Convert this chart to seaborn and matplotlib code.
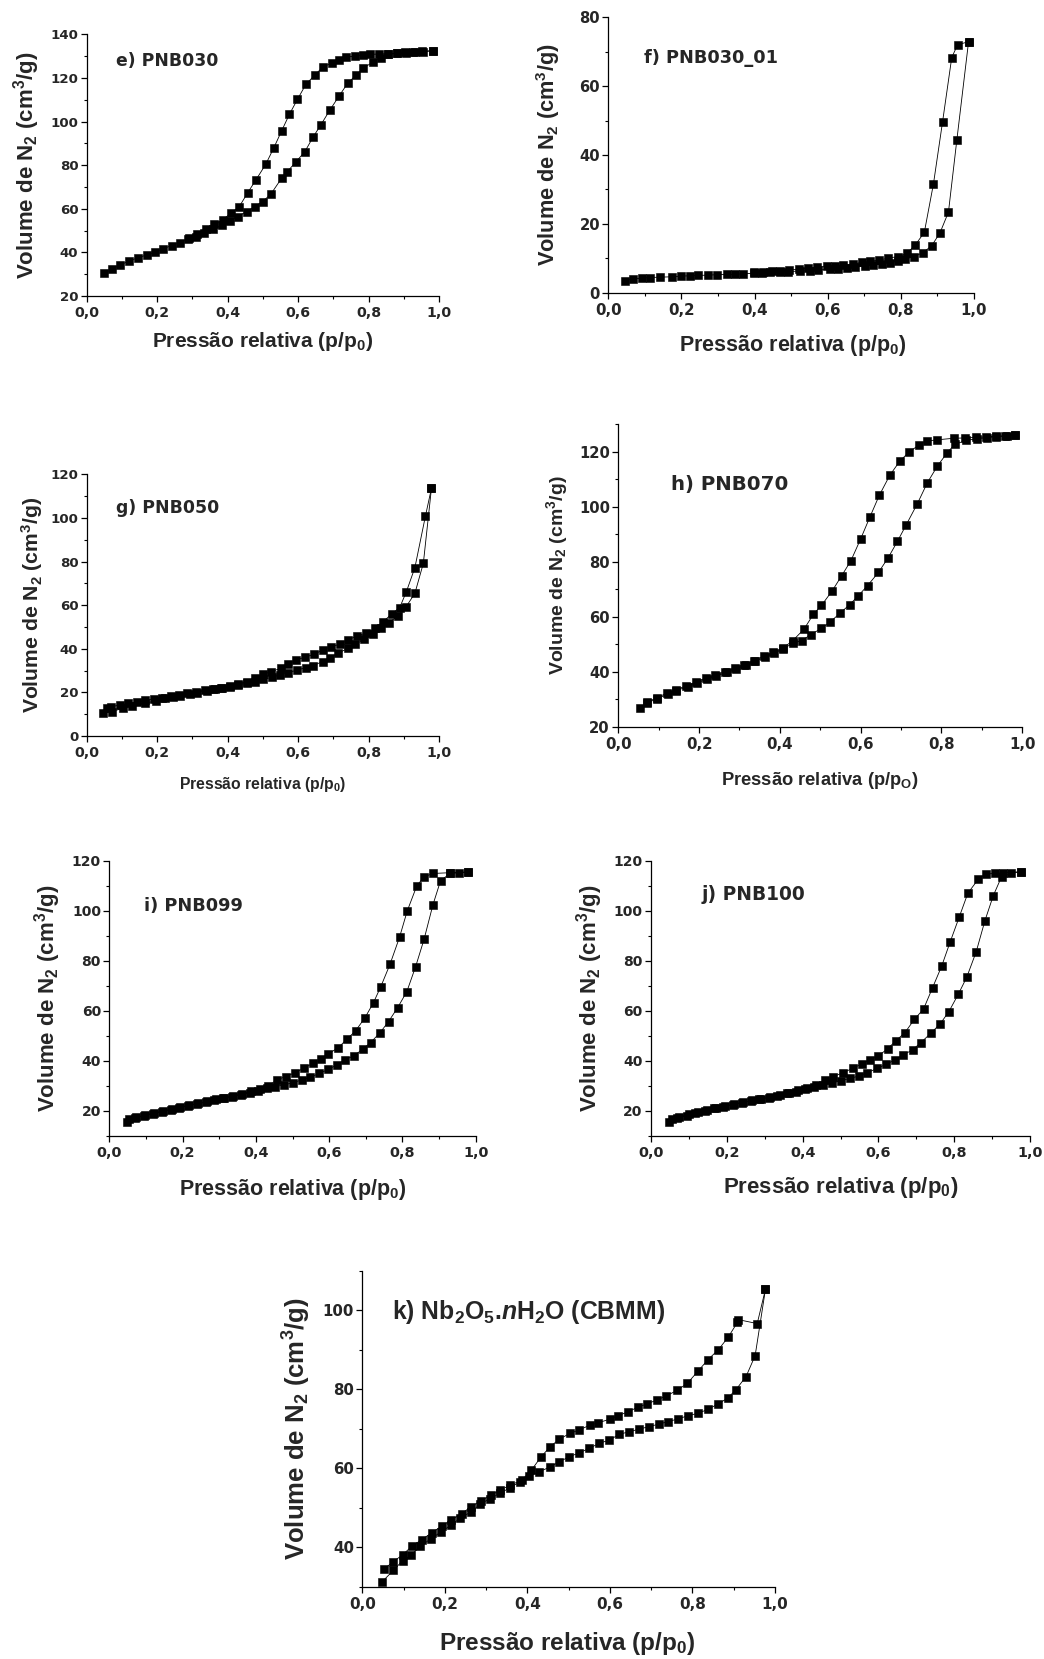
import numpy as np
import pandas as pd
import matplotlib
matplotlib.use("Agg")
import matplotlib.pyplot as plt
from matplotlib.ticker import MultipleLocator, FuncFormatter
import seaborn as sns

# ---------------- data ----------------
# e) PNB030
e_ads_x = [0.050, 0.071, 0.095, 0.121, 0.147, 0.170, 0.194, 0.217, 0.241, 0.265, 0.288, 0.310, 0.334, 0.359,
           0.383, 0.406, 0.428, 0.454, 0.477, 0.499, 0.522, 0.553, 0.569, 0.594, 0.619, 0.643, 0.664, 0.690,
           0.716, 0.740, 0.764, 0.784, 0.811, 0.834, 0.855, 0.879, 0.903, 0.926, 0.950, 0.981]
e_ads_y = [30.4, 32.2, 34.2, 36.1, 37.6, 38.8, 40.0, 41.7, 43.1, 44.5, 46.0, 47.2, 49.0, 50.6,
           52.4, 54.2, 56.4, 58.7, 61.0, 63.3, 66.6, 74.0, 77.0, 81.6, 86.2, 93.1, 98.4, 105.3,
           111.7, 117.5, 121.3, 124.4, 127.2, 129.3, 130.8, 131.3, 131.7, 132.0, 132.2, 132.5]
e_des_x = [0.981, 0.955, 0.930, 0.905, 0.880, 0.855, 0.830, 0.805, 0.785, 0.761, 0.737, 0.716, 0.695, 0.671,
           0.647, 0.622, 0.598, 0.575, 0.553, 0.531, 0.508, 0.480, 0.457, 0.433, 0.409, 0.386, 0.362, 0.338,
           0.314, 0.290]
e_des_y = [132.5, 132.0, 131.8, 131.5, 131.3, 131.2, 131.0, 130.8, 130.5, 130.1, 129.5, 128.2, 126.7, 125.2,
           121.3, 117.1, 110.2, 103.3, 95.7, 88.0, 80.4, 73.2, 67.4, 61.0, 57.9, 55.0, 52.8, 50.6,
           48.6, 46.8]

# f) PNB030_01
f_ads_x = [0.046, 0.068, 0.091, 0.114, 0.141, 0.173, 0.200, 0.223, 0.246, 0.273, 0.296, 0.324, 0.346, 0.369,
           0.397, 0.419, 0.442, 0.469, 0.492, 0.524, 0.551, 0.574, 0.606, 0.629, 0.652, 0.675, 0.702, 0.725,
           0.748, 0.770, 0.793, 0.811, 0.836, 0.860, 0.884, 0.907, 0.930, 0.953, 0.985]
f_ads_y = [3.5, 4.0, 4.2, 4.4, 4.5, 4.6, 4.8, 4.9, 5.0, 5.1, 5.2, 5.3, 5.3, 5.5,
           5.6, 5.8, 5.9, 6.0, 6.1, 6.3, 6.4, 6.6, 6.8, 7.0, 7.2, 7.5, 7.7, 8.0,
           8.3, 8.7, 9.1, 9.7, 10.5, 11.6, 13.6, 17.4, 23.4, 44.4, 72.9]
f_des_x = [0.985, 0.955, 0.939, 0.914, 0.889, 0.864, 0.839, 0.816, 0.791, 0.766, 0.741, 0.716, 0.693, 0.668,
           0.643, 0.620, 0.597, 0.570, 0.547, 0.520, 0.495, 0.469, 0.447, 0.422, 0.397]
f_des_y = [72.9, 72.0, 68.3, 49.7, 31.6, 17.5, 13.8, 11.4, 10.5, 10.0, 9.5, 9.1, 8.8, 8.3,
           8.0, 7.7, 7.6, 7.4, 7.1, 6.8, 6.6, 6.4, 6.2, 6.1, 5.9]

# g) PNB050
g_ads_x = [0.045, 0.071, 0.104, 0.128, 0.165, 0.198, 0.222, 0.246, 0.265, 0.293, 0.314, 0.340, 0.364, 0.383,
           0.406, 0.430, 0.454, 0.477, 0.501, 0.525, 0.548, 0.572, 0.598, 0.622, 0.643, 0.669, 0.690, 0.714,
           0.740, 0.761, 0.788, 0.811, 0.835, 0.858, 0.882, 0.905, 0.931, 0.955, 0.978]
g_ads_y = [10.4, 11.2, 12.7, 13.8, 15.0, 16.1, 17.3, 17.7, 18.3, 19.1, 19.9, 20.8, 21.4, 21.9,
           22.6, 23.4, 24.2, 24.9, 26.0, 26.9, 28.0, 29.0, 30.3, 31.3, 32.3, 34.1, 35.9, 37.9,
           40.2, 42.0, 44.3, 46.6, 49.4, 52.0, 55.0, 59.0, 65.4, 79.2, 113.6]
g_des_x = [0.978, 0.961, 0.931, 0.907, 0.888, 0.865, 0.841, 0.818, 0.792, 0.766, 0.742, 0.718, 0.693, 0.669,
           0.646, 0.619, 0.595, 0.572, 0.551, 0.523, 0.501, 0.477, 0.454, 0.430, 0.406, 0.382, 0.358, 0.335,
           0.310, 0.286, 0.262, 0.238, 0.214, 0.190, 0.166, 0.142, 0.118, 0.094, 0.070, 0.058]
g_des_y = [113.6, 100.9, 77.2, 66.2, 58.9, 55.9, 52.4, 49.4, 47.1, 45.9, 44.0, 42.0, 41.0, 39.4,
           37.5, 36.1, 34.9, 32.9, 31.0, 29.5, 28.3, 26.4, 24.9, 23.8, 22.9, 22.2, 21.5, 21.0,
           20.3, 19.6, 19.0, 18.3, 17.6, 16.9, 16.3, 15.6, 14.9, 14.2, 13.4, 12.8]

# h) PNB070
h_ads_x = [0.054, 0.070, 0.095, 0.124, 0.144, 0.172, 0.194, 0.219, 0.243, 0.268, 0.291, 0.316, 0.338, 0.363,
           0.385, 0.408, 0.432, 0.454, 0.476, 0.503, 0.524, 0.549, 0.573, 0.594, 0.617, 0.644, 0.668, 0.691,
           0.712, 0.740, 0.765, 0.790, 0.814, 0.833, 0.861, 0.887, 0.912, 0.936, 0.961, 0.982]
h_ads_y = [26.7, 28.5, 30.1, 31.9, 33.1, 34.6, 35.8, 37.3, 38.5, 39.7, 40.9, 42.5, 43.7, 45.3,
           46.7, 48.2, 50.4, 51.3, 53.4, 55.8, 58.0, 61.3, 64.4, 67.6, 71.3, 76.1, 81.4, 87.4,
           93.2, 101.0, 108.7, 114.8, 119.6, 122.7, 124.1, 124.7, 125.1, 125.5, 125.7, 126.0]
h_des_x = [0.982, 0.958, 0.934, 0.910, 0.885, 0.858, 0.831, 0.788, 0.765, 0.744, 0.720, 0.697, 0.672, 0.646,
           0.623, 0.600, 0.576, 0.553, 0.530, 0.503, 0.483, 0.460, 0.432, 0.408, 0.384, 0.360, 0.336, 0.312,
           0.288, 0.264, 0.240, 0.216, 0.192, 0.168, 0.144, 0.120, 0.096, 0.072]
h_des_y = [126.0, 125.8, 125.6, 125.4, 125.2, 125.0, 124.9, 124.3, 123.9, 122.4, 119.9, 116.6, 111.4, 104.1,
           96.3, 88.3, 80.4, 74.9, 69.5, 64.1, 60.9, 55.5, 51.3, 48.6, 47.0, 45.6, 44.0, 42.6,
           41.3, 40.0, 38.8, 37.6, 36.2, 34.9, 33.4, 32.2, 30.5, 29.0]

# i) PNB099
i_ads_x = [0.049, 0.070, 0.095, 0.118, 0.143, 0.167, 0.191, 0.216, 0.238, 0.263, 0.287, 0.311, 0.336, 0.359,
           0.384, 0.407, 0.429, 0.452, 0.477, 0.502, 0.525, 0.548, 0.573, 0.598, 0.621, 0.643, 0.668, 0.691,
           0.713, 0.739, 0.762, 0.787, 0.812, 0.836, 0.859, 0.883, 0.904, 0.930, 0.955, 0.980]
i_ads_y = [15.5, 17.1, 18.0, 18.8, 19.7, 20.4, 21.3, 22.0, 22.8, 23.5, 24.4, 25.1, 25.7, 26.4,
           27.3, 28.1, 29.1, 29.7, 30.4, 31.3, 32.4, 33.4, 35.0, 36.6, 38.4, 40.4, 42.1, 44.6,
           47.3, 51.3, 55.7, 61.3, 67.7, 77.7, 88.6, 102.3, 112.0, 114.9, 115.2, 115.5]
i_des_x = [0.980, 0.930, 0.884, 0.859, 0.839, 0.813, 0.792, 0.766, 0.741, 0.721, 0.698, 0.672, 0.648, 0.625,
           0.598, 0.578, 0.555, 0.530, 0.507, 0.481, 0.457, 0.434, 0.410, 0.386, 0.362, 0.338, 0.314, 0.290,
           0.266, 0.242, 0.218, 0.194, 0.170, 0.146, 0.122, 0.098, 0.074, 0.055]
i_des_y = [115.5, 115.2, 114.9, 113.6, 109.9, 99.9, 89.4, 78.6, 69.7, 63.3, 57.3, 52.0, 48.6, 45.3,
           42.8, 40.6, 39.0, 37.0, 35.3, 33.7, 32.4, 30.0, 28.8, 27.8, 26.9, 26.1, 25.3, 24.6,
           23.8, 23.0, 22.3, 21.6, 20.8, 20.0, 19.2, 18.4, 17.5, 16.8]

# j) PNB100
j_ads_x = [0.048, 0.069, 0.094, 0.116, 0.142, 0.166, 0.191, 0.215, 0.239, 0.263, 0.286, 0.310, 0.333, 0.358,
           0.383, 0.406, 0.430, 0.455, 0.477, 0.501, 0.525, 0.550, 0.571, 0.597, 0.620, 0.644, 0.666, 0.690,
           0.712, 0.738, 0.763, 0.786, 0.811, 0.833, 0.858, 0.881, 0.903, 0.925, 0.950, 0.976]
j_ads_y = [15.7, 17.1, 18.1, 19.1, 20.0, 21.1, 21.7, 22.4, 23.3, 24.0, 24.7, 25.3, 26.1, 27.1,
           27.7, 28.7, 29.5, 30.4, 31.1, 32.1, 33.0, 34.0, 35.3, 37.0, 38.6, 40.4, 42.4, 44.4,
           47.3, 51.0, 54.8, 59.7, 66.7, 73.4, 83.6, 96.0, 106.0, 113.6, 114.9, 115.6]
j_des_x = [0.976, 0.930, 0.908, 0.884, 0.864, 0.836, 0.813, 0.789, 0.767, 0.743, 0.719, 0.695, 0.670, 0.646,
           0.624, 0.600, 0.578, 0.556, 0.532, 0.507, 0.481, 0.459, 0.435, 0.411, 0.387, 0.363, 0.339, 0.315,
           0.291, 0.267, 0.243, 0.219, 0.195, 0.171, 0.147, 0.123, 0.099, 0.075, 0.056]
j_des_y = [115.6, 115.2, 114.9, 114.7, 112.7, 107.0, 97.4, 87.4, 77.9, 69.3, 60.7, 56.6, 51.3, 48.0,
           44.8, 42.0, 40.4, 38.8, 37.0, 35.3, 33.7, 32.4, 30.2, 29.2, 28.2, 27.3, 26.4, 25.6,
           24.9, 24.2, 23.5, 22.8, 22.0, 21.3, 20.4, 19.6, 18.7, 17.6, 16.9]

# k) Nb2O5.nH2O (CBMM)
k_ads_x = [0.047, 0.075, 0.098, 0.117, 0.140, 0.166, 0.190, 0.214, 0.238, 0.263, 0.285, 0.309, 0.334, 0.358,
           0.382, 0.405, 0.429, 0.455, 0.477, 0.502, 0.526, 0.550, 0.574, 0.599, 0.623, 0.647, 0.671, 0.695,
           0.720, 0.742, 0.766, 0.790, 0.814, 0.838, 0.863, 0.885, 0.905, 0.930, 0.952, 0.977]
k_ads_y = [31.1, 34.1, 36.6, 37.9, 40.2, 42.1, 43.8, 45.5, 47.4, 48.9, 50.8, 52.3, 53.6, 55.1,
           56.5, 58.0, 59.1, 60.3, 61.6, 62.9, 63.9, 65.0, 66.3, 67.1, 68.6, 69.2, 69.9, 70.5,
           71.2, 71.8, 72.5, 73.3, 73.9, 74.9, 76.3, 77.7, 79.8, 83.2, 88.5, 105.3]
k_des_x = [0.977, 0.957, 0.911, 0.909, 0.887, 0.863, 0.838, 0.813, 0.788, 0.763, 0.737, 0.715, 0.691, 0.667,
           0.645, 0.620, 0.600, 0.572, 0.552, 0.526, 0.503, 0.477, 0.455, 0.432, 0.410, 0.386, 0.358, 0.334,
           0.311, 0.287, 0.263, 0.241, 0.216, 0.192, 0.168, 0.144, 0.120, 0.098, 0.074, 0.053]
k_des_y = [105.3, 96.6, 97.6, 96.9, 93.2, 90.0, 87.5, 84.5, 81.5, 79.7, 78.3, 77.3, 76.3, 75.4,
           74.3, 73.3, 72.4, 71.5, 70.9, 69.7, 68.8, 67.3, 65.4, 62.7, 59.5, 56.9, 55.7, 54.4,
           53.1, 51.7, 50.2, 48.5, 46.9, 45.3, 43.6, 41.9, 40.2, 38.1, 36.2, 34.5]

titles = ["e) PNB030", "f) PNB030_01", "g) PNB050", "h) PNB070", "i) PNB099", "j) PNB100",
          r"k) Nb$_\mathbf{2}$O$_\mathbf{5}$.$\mathit{n}$H$_\mathbf{2}$O (CBMM)"]
ylims = [(20, 140), (0, 80), (0, 120), (20, 130), (10, 120), (10, 120), (30, 110)]
yticks = [[20, 40, 60, 80, 100, 120, 140], [0, 20, 40, 60, 80], [0, 20, 40, 60, 80, 100, 120],
          [20, 40, 60, 80, 100, 120], [20, 40, 60, 80, 100, 120], [20, 40, 60, 80, 100, 120],
          [40, 60, 80, 100]]
xticks = [0.0, 0.2, 0.4, 0.6, 0.8, 1.0]

# ---------------- style ----------------
sns.set_theme(style="ticks")
plt.rcParams["font.family"] = ["Liberation Sans", "DejaVu Sans"]
plt.rcParams["font.weight"] = "bold"
plt.rcParams["axes.labelweight"] = "bold"
plt.rcParams["mathtext.fontset"] = "custom"
plt.rcParams["mathtext.rm"] = "Liberation Sans:bold"
plt.rcParams["mathtext.bf"] = "Liberation Sans:bold"
plt.rcParams["mathtext.it"] = "Liberation Sans:bold:italic"
plt.rcParams["mathtext.default"] = "bf"

WIDE = ["DejaVu Sans", "Liberation Sans"]

fig = plt.figure(figsize=(10.44, 16.59), dpi=100)

# positions (figure fractions), layout only
rects = [
    (0.0830, 0.8216, 0.3377, 0.1577),
    (0.5827, 0.8236, 0.3503, 0.1660),
    (0.0830, 0.5564, 0.3377, 0.1577),
    (0.5922, 0.5620, 0.3870, 0.1823),
    (0.1047, 0.3153, 0.3510, 0.1659),
    (0.6236, 0.3153, 0.3630, 0.1659),
    (0.3470, 0.0436, 0.3953, 0.1905),
]
title_pos = [(0.083, 127.8), (0.098, 68.2), (0.083, 104.4), (0.130, 107.9), (0.0955, 101.9), (0.134, 106.3), (0.071, 99.6)]
title_fs = [12.4, 12.8, 12.5, 14.2, 12.8, 13.4, 17.8]
title_family = [WIDE, WIDE, WIDE, WIDE, WIDE, WIDE, ["Liberation Sans", "DejaVu Sans"]]
ytick_fs = [9.6, 10.6, 9.6, 10.6, 10.0, 10.0, 10.8]
xtick_fs = [10.2, 10.8, 10.2, 10.8, 10.4, 10.4, 11.0]
xlab_fs = [15, 15.5, 11.3, 13.2, 15.5, 16, 17.5]
ylab_fs = [16, 15.7, 15.2, 14, 16, 16, 18.5]
xlab_pos = [(0.5, -0.130), (0.505, -0.146), (0.5, -0.149), (0.5, -0.143), (0.501, -0.148), (0.5, -0.142), (0.497, -0.137)]
ylab_pos = [-0.127, -0.127, -0.118, -0.120, -0.126, -0.121, -0.120]
msize = [5.2, 5.6, 5.4, 5.6, 5.6, 5.6, 6.4]

series = [
    (e_ads_x, e_ads_y, e_des_x, e_des_y),
    (f_ads_x, f_ads_y, f_des_x, f_des_y),
    (g_ads_x, g_ads_y, g_des_x, g_des_y),
    (h_ads_x, h_ads_y, h_des_x, h_des_y),
    (i_ads_x, i_ads_y, i_des_x, i_des_y),
    (j_ads_x, j_ads_y, j_des_x, j_des_y),
    (k_ads_x, k_ads_y, k_des_x, k_des_y),
]
xlabels = [r"Pressão relativa (p/p$_\mathbf{0}$)"] * 7
xlabels[3] = r"Pressão relativa (p/p$_\mathbf{O}$)"
ylabel = r"Volume de N$_\mathbf{2}$ (cm$^\mathbf{3}$/g)"

comma = FuncFormatter(lambda v, p: f"{v:.1f}".replace(".", ","))

for idx, (ax_x, ax_y, de_x, de_y) in enumerate(series):
    ax = fig.add_axes(rects[idx])
    df_a = pd.DataFrame({"p": ax_x, "v": ax_y})
    df_d = pd.DataFrame({"p": de_x, "v": de_y})
    for df in (df_a, df_d):
        sns.lineplot(data=df, x="p", y="v", ax=ax, sort=False, estimator=None,
                     color="black", linewidth=0.6, marker="s", markersize=msize[idx],
                     markeredgecolor="black", markeredgewidth=0.4, markerfacecolor="black")
    ax.set_xlim(0, 1.0)
    ax.set_ylim(*ylims[idx])
    ax.set_xticks(xticks)
    ax.xaxis.set_major_formatter(comma)
    ax.xaxis.set_minor_locator(MultipleLocator(0.1))
    ax.set_yticks(yticks[idx])
    ax.yaxis.set_minor_locator(MultipleLocator(10))
    for s in ("top", "right"):
        ax.spines[s].set_visible(False)
    for s in ("left", "bottom"):
        ax.spines[s].set_linewidth(0.9)
        ax.spines[s].set_color("black")
    ax.tick_params(which="major", direction="out", length=4, width=0.9, color="black")
    ax.tick_params(axis="x", which="major", pad=3.5, labelsize=xtick_fs[idx])
    ax.tick_params(axis="y", which="major", pad=2, labelsize=ytick_fs[idx])
    ax.tick_params(which="minor", direction="out", length=2.5, width=0.8, color="black")
    for lab in ax.get_xticklabels() + ax.get_yticklabels():
        lab.set_fontweight("bold")
        lab.set_family(WIDE)
    ax.set_xlabel(xlabels[idx], fontsize=xlab_fs[idx], fontweight="bold")
    ax.set_ylabel(ylabel, fontsize=ylab_fs[idx], fontweight="bold")
    ax.xaxis.set_label_coords(*xlab_pos[idx])
    ax.yaxis.set_label_coords(ylab_pos[idx], 0.5)
    tx, ty = title_pos[idx]
    ax.text(tx, ty, titles[idx], fontsize=title_fs[idx], fontweight="bold", ha="left", va="center",
            family=title_family[idx])
    ax.set_facecolor("white")

fig.savefig("out.png", dpi=100, facecolor="white")
